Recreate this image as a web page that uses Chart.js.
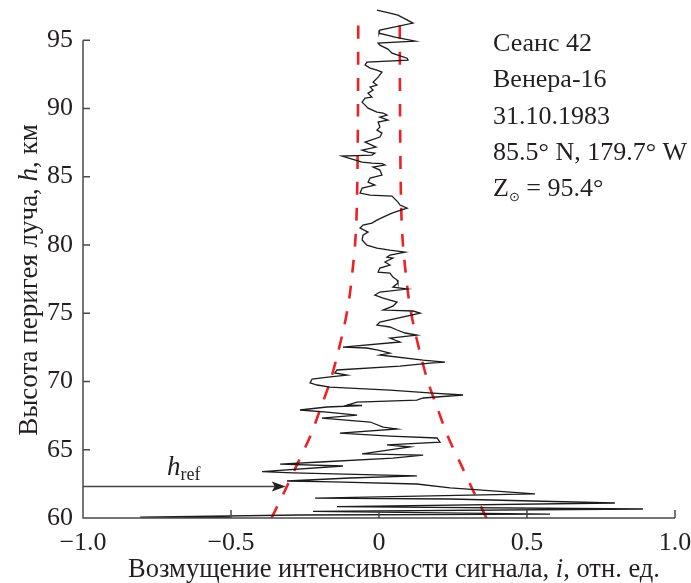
<!DOCTYPE html>
<html>
<head>
<meta charset="utf-8">
<script src="https://cdn.jsdelivr.net/npm/chart.js@4/dist/chart.umd.min.js"></script>
<style>
  html, body { margin: 0; padding: 0; background: #fff; }
</style>
</head>
<body>
<canvas id="canvas1" width="691" height="583"></canvas>
<script>
// perigee height of the ray, km
const heights = [97.20,96.98,96.83,96.25,95.73,95.51,95.22,94.93,94.78,94.63,94.34,94.05,93.90,93.68,93.54,93.39,93.17,92.95,92.80,92.66,
  92.29,91.92,91.71,91.56,91.34,91.12,90.83,90.75,90.46,90.24,90.02,89.73,89.66,89.51,89.36,89.14,89.00,88.63,88.41,88.19,
  87.90,87.53,87.17,86.95,86.80,86.73,86.58,86.51,86.29,86.07,85.99,85.95,85.85,85.70,85.48,85.12,84.90,84.60,84.38,84.16,
  83.80,83.65,83.58,83.14,82.92,82.70,82.48,82.33,82.04,81.82,81.60,81.45,81.23,80.94,80.72,80.36,79.99,79.77,79.62,79.48,
  79.26,79.11,79.04,78.75,78.53,78.31,78.01,77.94,77.65,77.43,77.21,76.91,76.77,76.55,76.33,76.11,75.82,75.52,75.23,75.16,
  75.01,74.35,74.13,73.99,73.77,73.55,73.40,73.18,72.89,72.52,72.45,72.30,72.08,71.94,71.57,71.42,71.35,71.13,70.84,70.62,
  70.47,70.32,70.18,69.89,69.74,69.59,69.37,69.15,69.01,68.79,68.64,68.49,68.27,68.24,68.13,67.91,67.76,67.54,67.32,67.03,
  66.66,66.52,66.22,66.00,65.86,65.56,65.35,65.20,64.69,64.61,64.39,64.10,63.95,63.81,63.40,63.30,63.08,62.93,62.71,62.64,
  62.49,62.20,61.76,61.68,61.46,61.39,61.10,60.84,60.66,60.48,60.29,60.22,60.07,60.04];

// signal intensity disturbance, rel. units
const signal = [-0.007,0.037,0.064,0.115,0.003,0.000,0.054,0.122,-0.003,0.003,0.030,0.044,0.064,0.095,0.098,-0.041,-0.047,-0.030,-0.007,0.010,
  -0.003,-0.020,-0.007,-0.030,-0.020,-0.037,-0.024,-0.047,-0.057,-0.047,-0.037,-0.007,0.014,0.027,0.003,0.030,-0.003,0.003,-0.007,0.010,
  0.003,-0.047,-0.010,-0.057,-0.037,-0.014,-0.024,-0.125,-0.091,-0.057,-0.024,0.010,0.020,-0.020,0.003,0.010,-0.030,-0.037,-0.014,-0.057,
  -0.064,-0.030,0.044,0.064,0.071,0.095,0.064,0.044,0.014,-0.007,-0.024,-0.054,-0.064,-0.037,-0.054,-0.057,-0.041,-0.007,0.037,0.088,
  0.037,0.027,0.047,0.020,0.037,0.003,-0.003,0.037,0.047,0.061,0.064,0.047,0.095,0.003,-0.014,0.014,0.061,0.047,0.014,0.115,
  0.139,0.003,-0.007,0.037,0.061,0.088,0.128,0.037,0.071,-0.122,-0.041,-0.003,0.037,0.003,0.149,0.223,0.172,0.071,-0.142,-0.149,
  -0.108,-0.172,-0.226,-0.233,-0.209,-0.166,0.037,0.182,0.284,0.149,0.128,-0.074,-0.108,-0.057,-0.176,-0.267,-0.176,-0.074,-0.193,-0.030,
  0.014,0.061,-0.132,0.037,0.196,0.206,0.027,0.105,-0.057,0.149,0.047,-0.199,-0.334,-0.122,-0.395,-0.291,0.128,-0.098,-0.311,-0.155,
  0.128,0.240,0.527,0.307,-0.216,0.240,0.797,-0.142,0.892,-0.223,0.578,-0.267,-0.807,-0.503];

// noise envelope (symmetric about zero)
const envHeights = [60, 62, 64, 66, 68, 70, 72, 74, 76, 78, 80, 82, 85, 90, 96.6];
const envelope = [0.363, 0.318, 0.275, 0.232, 0.198, 0.165, 0.140, 0.118, 0.101, 0.090, 0.081, 0.076, 0.073, 0.071, 0.070];

const xTicks = [-1, -0.5, 0, 0.5, 1];
const yTicks = [60, 65, 70, 75, 80, 85, 90, 95];

const hRef = 62.3;        // reference height marker
const hRefArrowTip = -0.315;

const infoLines = ['Сеанс 42', 'Венера-16', '31.10.1983', '85.5° N, 179.7° W'];
const zenithAngle = '95.4°';

const serif = '"Liberation Serif", "Times New Roman", serif';
const ink = '#231f20';

function runsWidth(ctx, runs) {
  let w = 0;
  runs.forEach(r => { ctx.font = r.font; w += ctx.measureText(r.text).width; });
  return w;
}

function drawRuns(ctx, runs, x, y, align) {
  let cx = align === 'center' ? x - runsWidth(ctx, runs) / 2 : x;
  runs.forEach(r => {
    ctx.font = r.font;
    ctx.fillText(r.text, cx, y + (r.dy || 0));
    cx += ctx.measureText(r.text).width;
  });
}

const decor = {
  id: 'decor',
  afterDraw(chart) {
    const ctx = chart.ctx;
    const xs = chart.scales.x, ys = chart.scales.y;
    const x0 = xs.getPixelForValue(-1);
    const y0 = ys.getPixelForValue(60);
    ctx.save();

    // axes with inward ticks
    ctx.strokeStyle = '#4a4a4a';
    ctx.lineWidth = 1.5;
    ctx.beginPath();
    ctx.moveTo(x0, ys.getPixelForValue(95));
    ctx.lineTo(x0, y0);
    ctx.lineTo(xs.getPixelForValue(1), y0);
    yTicks.forEach(v => {
      const py = ys.getPixelForValue(v);
      ctx.moveTo(x0, py);
      ctx.lineTo(x0 + 7, py);
    });
    xTicks.forEach(v => {
      const px = xs.getPixelForValue(v);
      ctx.moveTo(px, y0);
      ctx.lineTo(px, y0 - 8);
    });
    ctx.stroke();

    // h_ref arrow
    const ay = ys.getPixelForValue(hRef);
    const tip = xs.getPixelForValue(hRefArrowTip);
    ctx.strokeStyle = '#444';
    ctx.fillStyle = '#222';
    ctx.lineWidth = 1.5;
    ctx.beginPath();
    ctx.moveTo(x0, ay);
    ctx.lineTo(tip - 10, ay);
    ctx.stroke();
    ctx.beginPath();
    ctx.moveTo(tip, ay);
    ctx.lineTo(tip - 14, ay - 5);
    ctx.lineTo(tip - 11, ay);
    ctx.lineTo(tip - 14, ay + 5);
    ctx.closePath();
    ctx.fill();

    ctx.fillStyle = ink;
    ctx.textAlign = 'left';
    ctx.textBaseline = 'alphabetic';
    drawRuns(ctx, [
      { text: 'h', font: 'italic 27px ' + serif },
      { text: 'ref', font: '18px ' + serif, dy: 5 }
    ], 167, 475, 'left');

    // session info
    ctx.font = '26px ' + serif;
    infoLines.forEach((t, i) => ctx.fillText(t, 493, 51 + i * 36.3));
    drawRuns(ctx, [
      { text: 'Z', font: '26px ' + serif },
      { text: '⊙', font: '13px "DejaVu Sans"', dy: 5 },
      { text: ' = ' + zenithAngle, font: '26px ' + serif }
    ], 493, 196, 'left');

    // axis titles
    drawRuns(ctx, [
      { text: 'Возмущение интенсивности сигнала, ', font: '26.5px ' + serif },
      { text: 'i', font: 'italic 26.5px ' + serif },
      { text: ', отн. ед.', font: '26.5px ' + serif }
    ], 394, 577, 'center');

    ctx.translate(37, 280);
    ctx.rotate(-Math.PI / 2);
    drawRuns(ctx, [
      { text: 'Высота перигея луча, ', font: '27px ' + serif },
      { text: 'h', font: 'italic 27px ' + serif },
      { text: ', км', font: '27px ' + serif }
    ], 0, 0, 'center');

    ctx.restore();
  }
};

const fmt = v => v === 0 ? '0' : (v < 0 ? '\u2212' : '') + Math.abs(v).toFixed(1);

let ctx1 = document.getElementById('canvas1').getContext('2d');
new Chart(ctx1, {
  type: 'scatter',
  data: {
    datasets: [
      {
        data: heights.map((h, i) => ({ x: signal[i], y: h })),
        showLine: true,
        borderColor: '#1c1c1c',
        borderWidth: 1.3,
        pointRadius: 0,
        tension: 0
      },
      {
        data: envHeights.map((h, i) => ({ x: -envelope[i], y: h })),
        showLine: true,
        borderColor: '#ee2226',
        borderWidth: 2.6,
        borderDash: [13, 13],
        pointRadius: 0,
        tension: 0.3
      },
      {
        data: envHeights.map((h, i) => ({ x: envelope[i], y: h })),
        showLine: true,
        borderColor: '#ee2226',
        borderWidth: 2.6,
        borderDash: [13, 13],
        pointRadius: 0,
        tension: 0.3
      }
    ]
  },
  options: {
    responsive: false,
    animation: false,
    devicePixelRatio: 1,
    layout: { padding: { left: 0, right: 16, top: 6, bottom: 0 } },
    plugins: { legend: { display: false }, tooltip: { enabled: false } },
    scales: {
      x: {
        type: 'linear',
        min: -1,
        max: 1,
        grid: { display: false, drawTicks: false },
        border: { display: false },
        ticks: {
          font: { family: serif, size: 26 },
          color: ink,
          padding: 10,
          maxRotation: 0,
          callback: v => fmt(v)
        },
        afterBuildTicks: s => { s.ticks = xTicks.map(v => ({ value: v })); },
        afterFit: s => { s.height = 65; s.paddingLeft = 0; s.paddingRight = 0; }
      },
      y: {
        type: 'linear',
        min: 60,
        max: 97.5,
        grid: { display: false, drawTicks: false },
        border: { display: false },
        ticks: {
          font: { family: serif, size: 26 },
          color: ink,
          padding: 10,
          callback: v => String(v)
        },
        afterBuildTicks: s => { s.ticks = yTicks.map(v => ({ value: v })); },
        afterFit: s => { s.width = 83; s.paddingTop = 0; s.paddingBottom = 0; }
      }
    }
  },
  plugins: [decor]
});
</script>
</body>
</html>
